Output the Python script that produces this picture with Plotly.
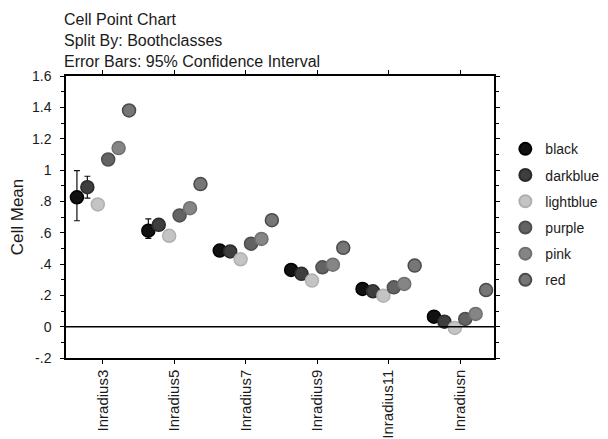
import plotly.graph_objects as go

categories = ["Inradius3", "Inradius5", "Inradius7", "Inradius9", "Inradius11", "Inradiusn"]
series = ["black", "darkblue", "lightblue", "purple", "pink", "red"]

black = [0.826, 0.613, 0.486, 0.362, 0.241, 0.064]
darkblue = [0.89, 0.65, 0.48, 0.337, 0.226, 0.032]
lightblue = [0.78, 0.58, 0.43, 0.294, 0.198, -0.008]
purple = [1.067, 0.71, 0.53, 0.379, 0.251, 0.049]
pink = [1.14, 0.756, 0.56, 0.396, 0.273, 0.081]
red = [1.38, 0.91, 0.68, 0.503, 0.39, 0.234]

err_plus = {
    "black": [0.17, 0.075, 0.02, 0.02, 0.02, 0.02],
    "darkblue": [0.07, 0.03, 0.02, 0.02, 0.02, 0.02],
    "lightblue": [0.03, 0.02, 0.02, 0.02, 0.02, 0.02],
    "purple": [0.02, 0.02, 0.02, 0.02, 0.02, 0.02],
    "pink": [0.02, 0.02, 0.02, 0.02, 0.02, 0.02],
    "red": [0.02, 0.02, 0.02, 0.02, 0.02, 0.02],
}
err_minus = {
    "black": [0.15, 0.05, 0.02, 0.02, 0.02, 0.02],
    "darkblue": [0.07, 0.03, 0.02, 0.02, 0.02, 0.02],
    "lightblue": [0.03, 0.02, 0.02, 0.02, 0.02, 0.02],
    "purple": [0.02, 0.02, 0.02, 0.02, 0.02, 0.02],
    "pink": [0.02, 0.02, 0.02, 0.02, 0.02, 0.02],
    "red": [0.02, 0.02, 0.02, 0.02, 0.02, 0.02],
}

values = {"black": black, "darkblue": darkblue, "lightblue": lightblue,
          "purple": purple, "pink": pink, "red": red}
fill = {"black": "#111111", "darkblue": "#3e3e3e", "lightblue": "#c4c4c4",
        "purple": "#636363", "pink": "#858585", "red": "#767676"}
edge = {"black": "#000000", "darkblue": "#2a2a2a", "lightblue": "#b0b0b0",
        "purple": "#4e4e4e", "pink": "#707070", "red": "#4a4a4a"}

ytickvals = [-0.2, 0, 0.2, 0.4, 0.6, 0.8, 1.0, 1.2, 1.4, 1.6]
yticktext = ["-.2", "0", ".2", ".4", ".6", ".8", "1", "1.2", "1.4", "1.6"]

offset_step = 0.146
fig = go.Figure()
for i, s in enumerate(series):
    off = (i - 2.5) * offset_step
    fig.add_trace(go.Scatter(
        x=[k + off for k in range(len(categories))],
        y=values[s],
        mode="markers",
        name=s,
        legendgroup=s,
        marker=dict(size=13, color=fill[s], line=dict(color=edge[s], width=1.5)),
        error_y=dict(type="data", symmetric=False, array=err_plus[s],
                     arrayminus=err_minus[s], color="#111111", thickness=1.2, width=3),
    ))

fig.add_shape(type="line", xref="paper", x0=0, x1=1, yref="y", y0=0, y1=0,
              line=dict(color="black", width=1.5))

TXT = "#1a1a1a"
fig.update_layout(
    width=608, height=439,
    margin=dict(l=58, r=122, t=68, b=89, autoexpand=False),
    paper_bgcolor="white", plot_bgcolor="white",
    font=dict(family="Liberation Sans, Arial, sans-serif", size=15, color=TXT),
    showlegend=True,
    legend=dict(xref="container", yref="paper", x=0.818, y=0.797,
                xanchor="left", yanchor="top",
                traceorder="grouped", tracegroupgap=5, itemsizing="constant",
                font=dict(size=14, color=TXT), bgcolor="rgba(0,0,0,0)"),
    annotations=[dict(text="Cell Point Chart<br>Split By: Boothclasses<br>Error Bars: 95% Confidence Interval",
                      xref="paper", yref="paper", x=0, y=1, xshift=-4, yshift=4,
                      xanchor="left", yanchor="bottom", align="left", showarrow=False,
                      font=dict(size=16, color=TXT))],
)
fig.update_xaxes(
    range=[-0.518, 5.476], tickmode="array", tickvals=list(range(len(categories))),
    ticktext=categories, tickangle=-90, showgrid=False, zeroline=False,
    showline=True, linecolor="black", linewidth=1.5, mirror="ticks",
    ticks="outside", ticklen=4, tickcolor="black", tickfont=dict(size=15, color=TXT),
    automargin=False,
)
fig.update_yaxes(
    range=[-0.2, 1.6], tickmode="array", tickvals=ytickvals, ticktext=yticktext,
    showgrid=False, zeroline=False, showline=True, linecolor="black", linewidth=1.5,
    mirror="ticks", ticks="outside", ticklen=4, tickcolor="black",
    tickfont=dict(size=14, color=TXT), ticklabelstandoff=6, automargin=False,
    minor=dict(tickvals=[-0.1, 0.1, 0.3, 0.5, 0.7, 0.9, 1.1, 1.3, 1.5],
               ticks="outside", ticklen=3, tickcolor="black"),
    title=dict(text="Cell Mean", font=dict(size=17, color=TXT), standoff=8),
)
fig.write_html("out.html")
